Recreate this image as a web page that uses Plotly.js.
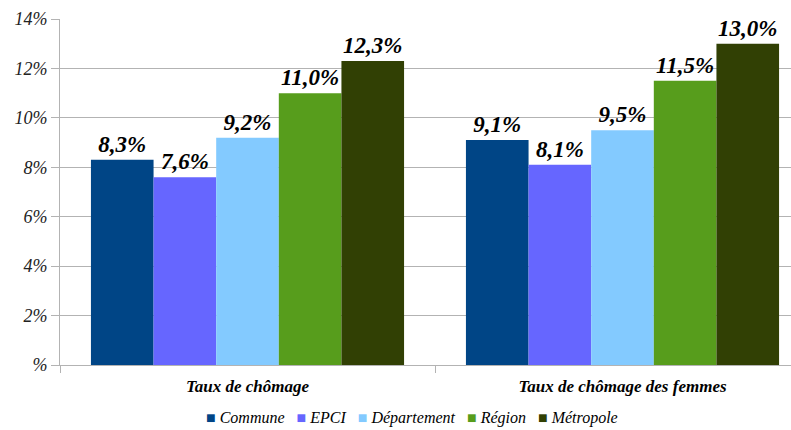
<!DOCTYPE html>
<html>
<head>
<meta charset="utf-8">
<script src="https://cdn.plot.ly/plotly-3.0.1.min.js"></script>
<style>
html,body{margin:0;padding:0;overflow:hidden;background:#fff;width:791px;height:430px;}
#chart{width:830px;height:430px;}
</style>
</head>
<body>
<div id="chart"></div>
<script>
const categories = ["Taux de chômage", "Taux de chômage des femmes"];
const seriesNames = ["Commune", "EPCI", "Département", "Région", "Métropole"];
const commune = [8.3, 9.1];
const epci = [7.6, 8.1];
const departement = [9.2, 9.5];
const region = [11.0, 11.5];
const metropole = [12.3, 13.0];
const seriesColors = ["#004586", "#6666ff", "#83caff", "#579d1c", "#314004"];
const tickVals = [0, 2, 4, 6, 8, 10, 12, 14];
const tickText = ["%", "2%", "4%", "6%", "8%", "10%", "12%", "14%"];

const FONT_FAMILY = "Liberation Serif";
const allSeries = [commune, epci, departement, region, metropole];
const traces = allSeries.map((vals, i) => ({
  type: "bar",
  name: seriesNames[i],
  x: categories,
  y: vals,
  marker: {color: seriesColors[i], line: {width: 0}},
  texttemplate: "%{y:.1f}%",
  textposition: "outside",
  cliponaxis: false,
  textfont: {family: FONT_FAMILY, size: 23, color: "#000", weight: "bold", style: "italic"},
  hoverinfo: "skip",
  showlegend: false
}));

const legendText = seriesNames.map((n, i) =>
  `<span style="color:${seriesColors[i]}">■</span> ${n}`).join("&nbsp;&nbsp;&nbsp;");

const layout = {
  width: 830, height: 430,
  font: {family: FONT_FAMILY},
  margin: {l: 60, r: 20, t: 19, b: 65, autoexpand: false},
  paper_bgcolor: "#fff", plot_bgcolor: "#fff",
  separators: ",.",
  barmode: "group",
  bargap: 0.165,
  bargroupgap: 0,
  showlegend: false,
  annotations: [{
    xref: "paper", yref: "paper",
    x: (412 - 60) / 750, y: (365 - 418) / 346,
    xanchor: "center", yanchor: "middle",
    showarrow: false,
    borderpad: 0,
    text: legendText,
    font: {family: FONT_FAMILY, size: 16, color: "#000", style: "italic"}
  }],
  xaxis: {
    type: "category",
    tickson: "boundaries",
    ticks: "outside", ticklen: 7, tickcolor: "#b3b3b3", tickwidth: 1,
    ticklabelstandoff: 6,
    showline: true, linecolor: "#b3b3b3", linewidth: 1,
    showgrid: false, zeroline: false,
    tickfont: {family: FONT_FAMILY, size: 17, color: "#000", weight: "bold", style: "italic"},
    fixedrange: true
  },
  yaxis: {
    range: [0, 14],
    tickvals: tickVals, ticktext: tickText,
    ticks: "outside", ticklen: 8, tickcolor: "#b3b3b3", tickwidth: 1,
    showline: true, linecolor: "#b3b3b3", linewidth: 1,
    showgrid: true, gridcolor: "#b3b3b3", gridwidth: 1,
    zeroline: false,
    tickfont: {family: FONT_FAMILY, size: 18, color: "#222", style: "italic"},
    fixedrange: true
  }
};

Plotly.newPlot("chart", traces, layout, {staticPlot: true, displayModeBar: false});
</script>
</body>
</html>
